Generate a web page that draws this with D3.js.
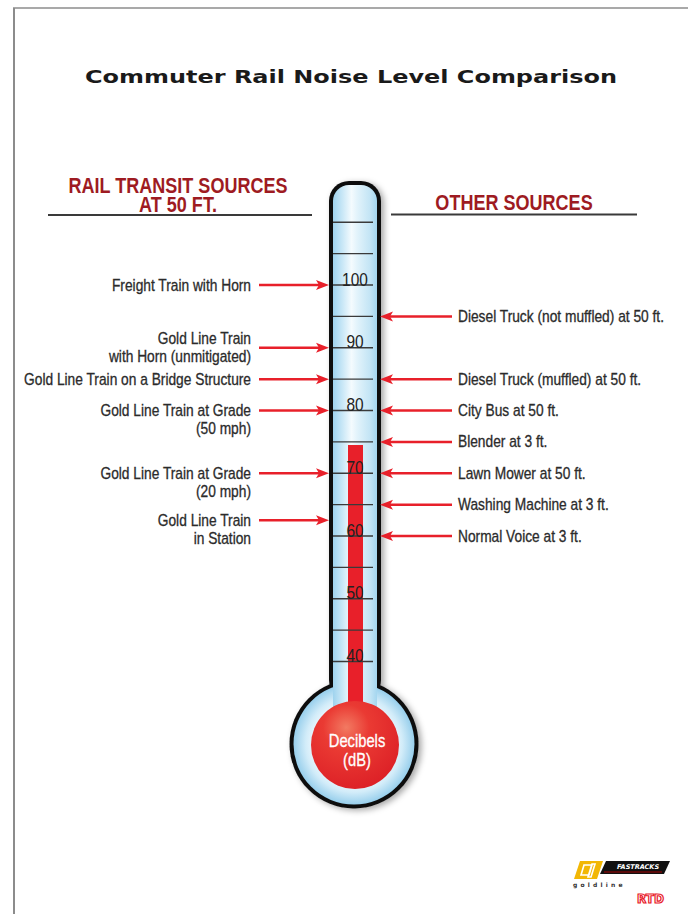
<!DOCTYPE html>
<html><head><meta charset="utf-8">
<script src="https://cdn.jsdelivr.net/npm/d3@7"></script>
<style>
html,body{margin:0;padding:0;background:#fff;}
svg{display:block;}
</style></head>
<body>
<svg id="chart" width="688" height="914"></svg>
<script>
// ---------- data ----------
const title = "Commuter Rail Noise Level Comparison";
const leftHeading = ["RAIL TRANSIT SOURCES", "AT 50 FT."];
const rightHeading = ["OTHER SOURCES"];
const leftLabels = [
  ["Freight Train with Horn"],
  ["Gold Line Train", "with Horn (unmitigated)"],
  ["Gold Line Train on a Bridge Structure"],
  ["Gold Line Train at Grade", "(50 mph)"],
  ["Gold Line Train at Grade", "(20 mph)"],
  ["Gold Line Train", "in Station"]
];
const leftValues = [100, 90, 85, 80, 70, 62.5];
const leftAlign = ["middle", "middle", "middle", "top", "top", "top"];
const rightLabels = [
  "Diesel Truck (not muffled) at 50 ft.",
  "Diesel Truck (muffled) at 50 ft.",
  "City Bus at 50 ft.",
  "Blender at 3 ft.",
  "Lawn Mower at 50 ft.",
  "Washing Machine at 3 ft.",
  "Normal Voice at 3 ft."
];
const rightValues = [95, 85, 80, 75, 70, 65, 60];
const tickValues = [40, 45, 50, 55, 60, 65, 70, 75, 80, 85, 90, 95, 100, 105, 110];
const tickLabels = [40, 50, 60, 70, 80, 90, 100];
const mercuryLevel = 74.5;
const bulbLabel = ["Decibels", "(dB)"];

// ---------- layout ----------
const svg = d3.select("#chart");
const sans = "'Liberation Sans',Arial,sans-serif";
const red = "#e8202a";
const darkRed = "#9e1b22";
const textCol = "#2b2b2b";

const y = d3.scaleLinear().domain([40, 100]).range([661.5, 285]);
const cx = 355;
const tubeL = 329, tubeR = 381, tubeTop = 181, tubeBottom = 700;
const wall = 4;
const bulbC = {x: 354, y: 744}, bulbR = 64.5, redR = 44;
const colL = 348, colR = 363;

// condensed text helper (horizontal compression of a real text element)
function ctext(g, x, yy, str, o) {
  const t = g.append("text")
    .attr("transform", `translate(${x},${yy}) scale(${o.sx || 0.87},1)`)
    .attr("font-family", o.family || sans)
    .attr("font-size", o.size)
    .attr("font-weight", o.weight || "normal")
    .attr("fill", o.fill || textCol)
    .attr("text-anchor", o.anchor || "start")
    .text(str);
  if (o.stroke) t.attr("stroke", o.fill || textCol).attr("stroke-width", o.stroke);
  return t;
}

const defs = svg.append("defs");
const tubeGrad = defs.append("linearGradient").attr("id", "tubeGrad").attr("x1", "0").attr("x2", "1").attr("y1", "0").attr("y2", "0");
[[0, "#9fd3ee"], [0.2, "#c6e6f6"], [0.42, "#f4fbfe"], [0.55, "#e2f3fb"], [0.85, "#c2e4f5"], [1, "#a4d6ef"]]
  .forEach(([o, c]) => tubeGrad.append("stop").attr("offset", o).attr("stop-color", c));
const ringGrad = defs.append("radialGradient").attr("id", "ringGrad");
[[0.62, "#f2fafe"], [0.8, "#d2ecf9"], [1, "#98cfec"]]
  .forEach(([o, c]) => ringGrad.append("stop").attr("offset", o).attr("stop-color", c));
const bulbGrad = defs.append("radialGradient").attr("id", "bulbGrad").attr("cx", "0.4").attr("cy", "0.3").attr("r", "0.75");
[[0, "#f27a62"], [0.35, "#ea3a33"], [1, "#dc1f26"]]
  .forEach(([o, c]) => bulbGrad.append("stop").attr("offset", o).attr("stop-color", c));
const shadow = defs.append("filter").attr("id", "shadow").attr("x", "-30%").attr("y", "-10%").attr("width", "160%").attr("height", "120%");
shadow.append("feDropShadow").attr("dx", 3).attr("dy", 2).attr("stdDeviation", 3).attr("flood-color", "#000").attr("flood-opacity", 0.35);

// frame
svg.append("line").attr("x1", 14).attr("x2", 14).attr("y1", 8).attr("y2", 914).attr("stroke", "#8c8c8c").attr("stroke-width", 2);
svg.append("line").attr("x1", 13).attr("x2", 688).attr("y1", 8).attr("y2", 8).attr("stroke", "#8c8c8c").attr("stroke-width", 1.5);

// title
svg.append("text").attr("x", 85).attr("y", 83).text(title)
  .attr("font-family", "'DejaVu Sans',sans-serif").attr("font-weight", "bold").attr("font-size", 18)
  .attr("textLength", 532).attr("lengthAdjust", "spacingAndGlyphs").attr("fill", "#1a1a1a");

// headings
const hg = svg.append("g");
const lht = ctext(hg, 178, 193, "", {size: 22, weight: "bold", fill: darkRed, anchor: "middle", sx: 0.82});
leftHeading.forEach((t, i) => lht.append("tspan").attr("x", 0).attr("dy", i ? 18.5 : 0).text(t));
const rht = ctext(hg, 514, 210, "", {size: 22, weight: "bold", fill: darkRed, anchor: "middle", sx: 0.82});
rightHeading.forEach((t, i) => rht.append("tspan").attr("x", 0).attr("dy", i ? 18.5 : 0).text(t));
svg.append("line").attr("x1", 48).attr("x2", 312).attr("y1", 215).attr("y2", 215).attr("stroke", "#3a3a3a").attr("stroke-width", 2);
svg.append("line").attr("x1", 391).attr("x2", 637).attr("y1", 214.5).attr("y2", 214.5).attr("stroke", "#3a3a3a").attr("stroke-width", 2);

// ---------- thermometer ----------
const therm = svg.append("g");
const outer = therm.append("g").attr("filter", "url(#shadow)");
outer.append("rect").attr("x", tubeL).attr("y", tubeTop).attr("width", tubeR - tubeL).attr("height", tubeBottom - tubeTop)
  .attr("rx", 20).attr("fill", "#111");
outer.append("circle").attr("cx", bulbC.x).attr("cy", bulbC.y).attr("r", bulbR).attr("fill", "#111");
therm.append("circle").attr("cx", bulbC.x).attr("cy", bulbC.y).attr("r", bulbR - wall).attr("fill", "url(#ringGrad)");
therm.append("rect").attr("x", tubeL + wall).attr("y", tubeTop + wall).attr("width", tubeR - tubeL - 2 * wall)
  .attr("height", tubeBottom - tubeTop - 2 * wall + 20).attr("rx", 16).attr("fill", "url(#tubeGrad)");
therm.append("rect").attr("x", tubeL + wall).attr("y", 670).attr("width", tubeR - tubeL - 2 * wall).attr("height", 40)
  .attr("fill", "url(#tubeGrad)");

// mercury column
therm.append("rect").attr("x", colL).attr("y", y(mercuryLevel)).attr("width", colR - colL)
  .attr("height", bulbC.y - y(mercuryLevel)).attr("fill", red);
therm.append("circle").attr("cx", cx).attr("cy", 745).attr("r", redR).attr("fill", "url(#bulbGrad)");

// ticks
therm.selectAll("line.tick").data(tickValues).join("line").attr("class", "tick")
  .attr("x1", 333).attr("x2", 373).attr("y1", d => y(d)).attr("y2", d => y(d))
  .attr("stroke", "#3a3a3a").attr("stroke-width", 1.3);
tickLabels.forEach(d => ctext(therm, cx, y(d) + 0.5, d, {size: 18, anchor: "middle", fill: "#222", sx: 0.86}));

// bulb label
bulbLabel.forEach((d, i) => ctext(therm, 357, 747 + i * 19, d, {size: 18, anchor: "middle", fill: "#fff", sx: 0.82, stroke: 0.3}));

// ---------- arrows ----------
function arrow(g, x1, x2, yy) {
  const dir = Math.sign(x2 - x1);
  g.append("line").attr("x1", x1).attr("x2", x2 - dir * 8).attr("y1", yy).attr("y2", yy)
    .attr("stroke", red).attr("stroke-width", 2.5);
  g.append("path").attr("d", `M${x2},${yy} L${x2 - dir * 13},${yy - 5} L${x2 - dir * 10},${yy} L${x2 - dir * 13},${yy + 5} Z`)
    .attr("fill", red);
}
const labelOpts = {size: 16, sx: 0.86, stroke: 0.3};
const lg = svg.append("g");
leftValues.forEach((v, i) => {
  const yy = y(v);
  const lines = leftLabels[i];
  const first = leftAlign[i] === "middle" ? yy - (lines.length - 1) * 9 : yy;
  lines.forEach((t, j) => ctext(lg, 251, first + j * 18 + 5.5, t, Object.assign({anchor: "end"}, labelOpts)));
  arrow(lg, 259, 329, yy);
});
const rg = svg.append("g");
rightValues.forEach((v, i) => {
  const yy = y(v);
  ctext(rg, 458, yy + 5.5, rightLabels[i], labelOpts);
  arrow(rg, 452, 380, yy);
});

// ---------- logo ----------
const logo = svg.append("g");
logo.append("path").attr("d", "M580,861 L603,861 L597,879 L574,879 Z").attr("fill", "#f2b705");
logo.append("path").attr("d", "M584,865 L592,865 L589,875 L581,875 Z M592,864 L595,864 L591,877 L588,877 Z")
  .attr("fill", "none").attr("stroke", "#fff").attr("stroke-width", 1.6);
logo.append("path").attr("d", "M606,861 L670,861 L664,874 L600,874 Z").attr("fill", "#111");
logo.append("text").attr("x", 617).attr("y", 869).attr("font-family", "'DejaVu Sans',sans-serif").attr("font-weight", "bold")
  .attr("font-style", "italic").attr("font-size", 6.5).attr("fill", "#fff").text("FASTRACKS");
logo.append("line").attr("x1", 604).attr("x2", 662).attr("y1", 872).attr("y2", 872).attr("stroke", "#c00").attr("stroke-width", 0.8);
logo.append("text").attr("x", 573).attr("y", 887).attr("font-family", "'DejaVu Sans',sans-serif").attr("font-weight", "bold")
  .attr("font-size", 6).attr("letter-spacing", 3.2).attr("fill", "#333").text("goldline");
logo.append("text").attr("x", 637).attr("y", 903).attr("font-family", "'DejaVu Sans',sans-serif").attr("font-weight", "bold")
  .attr("font-size", 12).attr("fill", "#fff").attr("stroke", "#e8202a").attr("stroke-width", 1.2).text("RTD");
</script>
</body></html>
